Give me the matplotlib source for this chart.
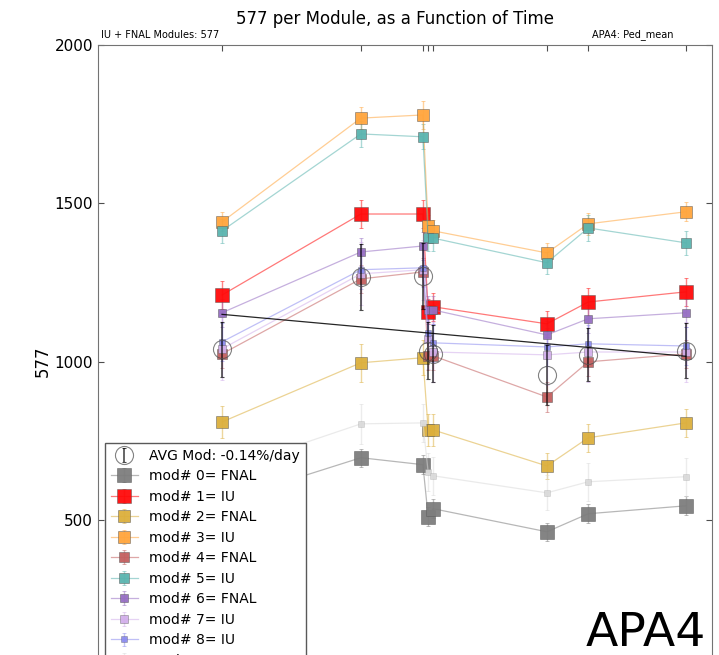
import numpy as np
import matplotlib
matplotlib.use("Agg")
import matplotlib.pyplot as plt
from matplotlib.colors import to_rgba

# ---- data -------------------------------------------------------------
# measurement times, days since the first run
days = [0.0, 26.2, 37.9, 38.9, 39.8, 61.3, 69.1, 87.5]

mod_labels = ["mod# 0= FNAL", "mod# 1= IU", "mod# 2= FNAL", "mod# 3= IU",
              "mod# 4= FNAL", "mod# 5= IU", "mod# 6= FNAL", "mod# 7= IU",
              "mod# 8= IU", "mod# 9= IU"]

mod0 = [557, 696, 674, 509, 535, 462, 519, 544]
mod1 = [1210, 1466, 1466, 1157, 1173, 1119, 1188, 1220]
mod2 = [809, 996, 1012, 784, 784, 670, 759, 806]
mod3 = [1441, 1769, 1779, 1428, 1413, 1343, 1435, 1473]
mod4 = [1024, 1261, 1283, 1018, 1018, 888, 999, 1024]
mod5 = [1413, 1719, 1710, 1390, 1390, 1312, 1422, 1375]
mod6 = [1154, 1346, 1365, 1163, 1163, 1084, 1135, 1154]
mod7 = [1040, 1277, 1290, 1070, 1030, 1021, 1030, 1030]
mod8 = [1062, 1290, 1296, 1090, 1059, 1046, 1056, 1049]
mod9 = [655, 803, 806, 650, 639, 585, 620, 636]

err0 = [30, 28, 30, 30, 30, 28, 30, 30]
err1 = [45, 45, 45, 40, 45, 42, 45, 45]
err2 = [50, 60, 55, 50, 50, 42, 45, 45]
err3 = [30, 35, 45, 35, 35, 30, 35, 30]
err4 = [45, 45, 45, 45, 45, 48, 45, 45]
err5 = [38, 40, 40, 40, 40, 35, 40, 38]
err6 = [45, 45, 45, 45, 45, 45, 45, 45]
err7 = [100, 100, 95, 95, 95, 95, 95, 95]
err8 = [60, 60, 60, 60, 60, 60, 60, 60]
err9 = [63, 63, 60, 60, 60, 55, 60, 60]

avg_vals = [1038, 1267, 1270, 1034, 1025, 956, 1022, 1034]
avg_errs = [88, 105, 105, 90, 90, 95, 85, 87]
avg_label = "AVG Mod: -0.14%/day"

modules = [mod0, mod1, mod2, mod3, mod4, mod5, mod6, mod7, mod8, mod9]
errors = [err0, err1, err2, err3, err4, err5, err6, err7, err8, err9]

# ---- styles -----------------------------------------------------------
marker_colors = ["#7d7d7d", "#ff0a0a", "#dcaf3c", "#ffa53c", "#c35f5f",
                 "#5ab4af", "#966ec3", "#d2afeb", "#8c8cf0", "#dadada"]
marker_sizes = [10.5, 10, 9, 8.2, 7.4, 6.8, 6.0, 5.4, 4.8, 4.2]
edge_alpha = [0.5, 0.5, 0.5, 0.5, 0.5, 0.5, 0.5, 0.4, 0.35, 0.15]

fig = plt.figure(figsize=(7.19, 6.55), dpi=100)
ax = fig.add_axes([98 / 719, 1 - 678 / 655, 614 / 719, 633 / 655])

for vals, errs, lab, c, ms, ea in zip(modules, errors, mod_labels,
                                      marker_colors, marker_sizes, edge_alpha):
    ax.errorbar(days, vals, yerr=errs, fmt="-s", label=lab,
                color=to_rgba(c, 0.55), lw=0.9,
                markersize=ms, markerfacecolor=to_rgba(c, 0.95),
                markeredgecolor=to_rgba("0.35", ea), markeredgewidth=0.7,
                ecolor=to_rgba(c, 0.5), elinewidth=1.0, capsize=1.5)

# average over modules with its linear trend
ax.errorbar(days, avg_vals, yerr=avg_errs, fmt="o", label=avg_label,
            markersize=13, markerfacecolor="none",
            markeredgecolor=to_rgba("0.3", 0.7), markeredgewidth=0.8,
            ecolor=to_rgba("black", 0.7), elinewidth=1.2, capsize=1.5,
            zorder=5)
slope, intercept = np.polyfit(days, avg_vals, 1)
tfit = np.array([days[0], days[-1]])
ax.plot(tfit, slope * tfit + intercept, color="black", lw=0.9, alpha=0.85,
        zorder=4)

# ---- axes -------------------------------------------------------------
ax.set_xlim(-23.4, 92.45)
ax.set_ylim(0, 2000)
ax.set_yticks([0, 500, 1000, 1500, 2000])
ax.set_xticks(days)
ax.set_xticklabels([])
ax.tick_params(direction="in", top=True, right=True, length=4,
               labelsize=11, color="0.3")
for sp in ax.spines.values():
    sp.set_color("0.45")
ax.set_ylabel("577", fontsize=12, labelpad=2)
ax.set_title("577 per Module, as a Function of Time", fontsize=12,
             pad=15, x=0.4837)
ax.text(0.005, 1.008, "IU + FNAL Modules: 577", transform=ax.transAxes,
        fontsize=7, ha="left", va="bottom")
ax.text(0.937, 1.008, "APA4: Ped_mean", transform=ax.transAxes,
        fontsize=7, ha="right", va="bottom")
ax.text(0.991, 0.05, "APA4", transform=ax.transAxes, fontsize=34,
        ha="right", va="baseline")

handles, labels = ax.get_legend_handles_labels()
order = [len(handles) - 1] + list(range(len(handles) - 1))
leg = ax.legend([handles[i] for i in order], [labels[i] for i in order],
                loc="upper left", bbox_to_anchor=(7 / 614, 235 / 633),
                borderaxespad=0.0, fontsize=10, numpoints=1, fancybox=False,
                framealpha=1.0, labelspacing=0.47)
leg.get_frame().set_edgecolor("0.35")

fig.savefig("out.png", dpi=100)
